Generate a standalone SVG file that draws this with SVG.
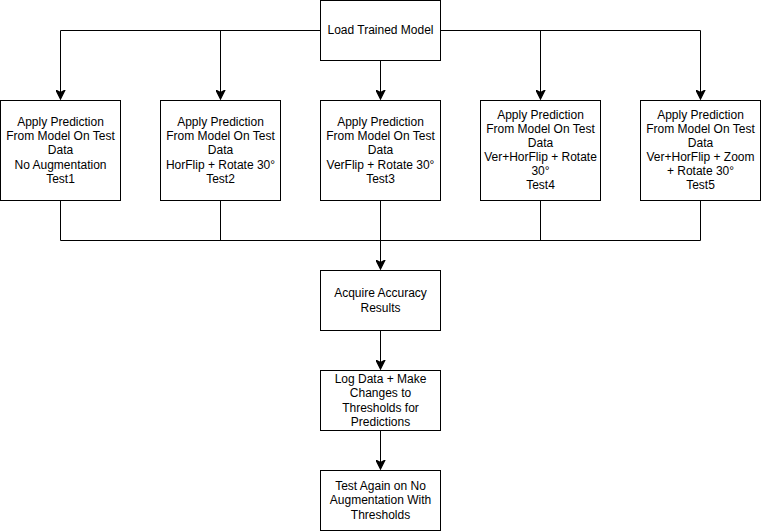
<svg xmlns="http://www.w3.org/2000/svg" width="761" height="531" viewBox="0 0 761 531">
<style>
.box{fill:#fff;stroke:#000;stroke-width:1}
.t{font-family:"Liberation Sans",Arial,sans-serif;font-size:12px;text-anchor:middle;fill:#000}
.c{fill:none;stroke:#000;stroke-width:1}
</style>
<defs>
<marker id="arr" markerWidth="10" markerHeight="10" refX="7" refY="3.5" orient="auto" markerUnits="userSpaceOnUse" viewBox="0 0 8 7">
<path d="M0,0 L7,3.5 L0,7 L1.75,3.5 Z" fill="#000" stroke="#000" stroke-width="1"/>
</marker>
</defs>
<rect width="761" height="531" fill="#fff"/>
<g id="connectors">
<path class="c" d="M320.5,30.5 H60.5 V99" marker-end="url(#arr)"/>
<path class="c" d="M220.5,30.5 V99" marker-end="url(#arr)"/>
<path class="c" d="M380.5,60.5 V99" marker-end="url(#arr)"/>
<path class="c" d="M440.5,30.5 H700.5 V99" marker-end="url(#arr)"/>
<path class="c" d="M540.5,30.5 V99" marker-end="url(#arr)"/>
<path class="c" d="M60.5,200.5 V240.5 H700.5 V200.5"/>
<path class="c" d="M220.5,200.5 V240.5"/>
<path class="c" d="M540.5,200.5 V240.5"/>
<path class="c" d="M380.5,200.5 V269" marker-end="url(#arr)"/>
<path class="c" d="M380.5,330.5 V369" marker-end="url(#arr)"/>
<path class="c" d="M380.5,430.5 V469" marker-end="url(#arr)"/>
</g>
<g id="load">
<rect class="box" x="320.5" y="0.5" width="120" height="60"/>
<text class="t" x="380.5" y="34">Load Trained Model</text>
</g>
<g id="test1">
<rect class="box" x="0.5" y="100.5" width="120" height="100"/>
<text class="t" x="60.5" y="126">Apply Prediction</text>
<text class="t" x="60.5" y="140">From Model On Test</text>
<text class="t" x="60.5" y="154">Data</text>
<text class="t" x="60.5" y="169">No Augmentation</text>
<text class="t" x="60.5" y="183">Test1</text>
</g>
<g id="test2">
<rect class="box" x="160.5" y="100.5" width="120" height="100"/>
<text class="t" x="220.5" y="126">Apply Prediction</text>
<text class="t" x="220.5" y="140">From Model On Test</text>
<text class="t" x="220.5" y="154">Data</text>
<text class="t" x="220.5" y="169">HorFlip + Rotate 30°</text>
<text class="t" x="220.5" y="183">Test2</text>
</g>
<g id="test3">
<rect class="box" x="320.5" y="100.5" width="120" height="100"/>
<text class="t" x="380.5" y="126">Apply Prediction</text>
<text class="t" x="380.5" y="140">From Model On Test</text>
<text class="t" x="380.5" y="154">Data</text>
<text class="t" x="380.5" y="169">VerFlip + Rotate 30°</text>
<text class="t" x="380.5" y="183">Test3</text>
</g>
<g id="test4">
<rect class="box" x="480.5" y="100.5" width="120" height="100"/>
<text class="t" x="540.5" y="119">Apply Prediction</text>
<text class="t" x="540.5" y="133">From Model On Test</text>
<text class="t" x="540.5" y="147">Data</text>
<text class="t" x="540.5" y="161">Ver+HorFlip + Rotate</text>
<text class="t" x="540.5" y="175">30°</text>
<text class="t" x="540.5" y="189">Test4</text>
</g>
<g id="test5">
<rect class="box" x="640.5" y="100.5" width="120" height="100"/>
<text class="t" x="700.5" y="119">Apply Prediction</text>
<text class="t" x="700.5" y="133">From Model On Test</text>
<text class="t" x="700.5" y="147">Data</text>
<text class="t" x="700.5" y="161">Ver+HorFlip + Zoom</text>
<text class="t" x="700.5" y="175">+ Rotate 30°</text>
<text class="t" x="700.5" y="189">Test5</text>
</g>
<g id="acquire">
<rect class="box" x="320.5" y="270.5" width="120" height="60"/>
<text class="t" x="380.5" y="297">Acquire Accuracy</text>
<text class="t" x="380.5" y="312">Results</text>
</g>
<g id="log">
<rect class="box" x="320.5" y="370.5" width="120" height="60"/>
<text class="t" x="380.5" y="383">Log Data + Make</text>
<text class="t" x="380.5" y="397">Changes to</text>
<text class="t" x="380.5" y="412">Thresholds for</text>
<text class="t" x="380.5" y="426">Predictions</text>
</g>
<g id="testagain">
<rect class="box" x="320.5" y="470.5" width="120" height="60"/>
<text class="t" x="380.5" y="490">Test Again on No</text>
<text class="t" x="380.5" y="504">Augmentation With</text>
<text class="t" x="380.5" y="519">Thresholds</text>
</g>
</svg>
